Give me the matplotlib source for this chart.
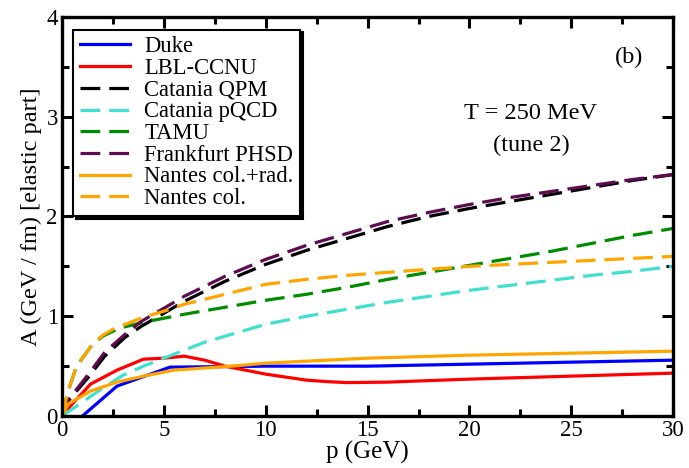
import matplotlib
matplotlib.use("Agg")
import matplotlib.pyplot as plt
from matplotlib.ticker import MultipleLocator

plt.rcParams['font.family'] = ['Liberation Serif', 'DejaVu Serif']
plt.rcParams['mathtext.fontset'] = 'stix'

# ---- data ----
duke_x = [1.0, 2.7, 5.3, 10, 15, 20, 25, 30]
duke_y = [0, 0.30, 0.49, 0.50, 0.50, 0.52, 0.54, 0.56]

lbl_x = [0, 0.5, 1.4, 2.7, 4.0, 5.0, 6.0, 7, 8, 9, 10, 11, 12, 13, 14, 16, 18, 20, 25, 30]
lbl_y = [0, 0.12, 0.32, 0.46, 0.57, 0.58, 0.60, 0.56, 0.50, 0.46, 0.42, 0.39, 0.36, 0.345, 0.335, 0.34, 0.355, 0.37, 0.40, 0.43]

qpm_x = [0, 0.3, 1.3, 2.1, 3.1, 3.9, 5.0, 6, 8, 10, 12, 14, 16, 18, 20, 22, 24, 26, 28, 30]
qpm_y = [0, 0.15, 0.39, 0.60, 0.79, 0.90, 1.03, 1.15, 1.35, 1.52, 1.66, 1.78, 1.90, 2.00, 2.08, 2.15, 2.22, 2.29, 2.36, 2.42]

pqcd_x = [0, 1, 2, 3, 4, 5, 6, 7, 8, 10, 12, 14, 16, 18, 20, 22, 24, 26, 28, 30]
pqcd_y = [0, 0.14, 0.28, 0.41, 0.50, 0.58, 0.66, 0.74, 0.80, 0.92, 1.00, 1.07, 1.14, 1.20, 1.26, 1.31, 1.36, 1.41, 1.45, 1.50]

tamu_x = [0, 0.3, 0.7, 1.0, 1.5, 2.0, 2.5, 3.0, 4.0, 5.0, 6, 8, 10, 12, 14, 16, 18, 20, 22, 24, 26, 28, 30]
tamu_y = [0, 0.25, 0.49, 0.58, 0.72, 0.80, 0.85, 0.89, 0.94, 0.98, 1.02, 1.09, 1.16, 1.22, 1.29, 1.37, 1.44, 1.51, 1.58, 1.65, 1.73, 1.81, 1.88]

phsd_x = [0, 0.3, 1.3, 2.1, 3.1, 3.9, 5.0, 6, 8, 10, 12, 14, 16, 18, 20, 22, 24, 26, 28, 30]
phsd_y = [0, 0.16, 0.42, 0.64, 0.82, 0.95, 1.08, 1.20, 1.40, 1.57, 1.71, 1.83, 1.95, 2.04, 2.12, 2.19, 2.25, 2.31, 2.37, 2.42]

nrad_x = [0, 0.3, 1.4, 2.7, 4.0, 5.5, 8.3, 10, 12, 15, 20, 25, 30]
nrad_y = [0, 0.12, 0.25, 0.34, 0.40, 0.46, 0.50, 0.53, 0.55, 0.58, 0.61, 0.63, 0.65]

ncol_x = [0, 0.3, 0.7, 1.0, 1.5, 2.0, 2.5, 3.0, 4.0, 5.0, 6, 8, 10, 12, 14, 16, 18, 20, 22, 24, 26, 28, 30]
ncol_y = [0, 0.25, 0.49, 0.58, 0.72, 0.81, 0.87, 0.91, 0.99, 1.05, 1.12, 1.22, 1.32, 1.37, 1.41, 1.44, 1.47, 1.50, 1.52, 1.54, 1.56, 1.58, 1.60]

labels = ["Duke", "LBL-CCNU", "Catania QPM", "Catania pQCD", "TAMU",
          "Frankfurt PHSD", "Nantes col.+rad.", "Nantes col."]

fig = plt.figure(figsize=(6.89, 4.68), dpi=100)
ax = fig.add_axes([0.090, 0.111, 0.887, 0.853])

lw = 2.3
dash = (6.2, 2.8)
ax.plot(duke_x, duke_y, color='#0000FF', lw=lw, label=labels[0])
ax.plot(lbl_x, lbl_y, color='#FF0000', lw=lw, label=labels[1])
ax.plot(qpm_x, qpm_y, color='black', lw=lw, dashes=dash, label=labels[2])
ax.plot(pqcd_x, pqcd_y, color='#40E0D0', lw=lw, dashes=dash, label=labels[3])
ax.plot(tamu_x, tamu_y, color='#008C00', lw=lw, dashes=dash, label=labels[4])
ax.plot(phsd_x, phsd_y, color='#5E0B52', lw=lw, dashes=dash, label=labels[5])
ax.plot(nrad_x, nrad_y, color='#FFA500', lw=lw, label=labels[6])
ax.plot(ncol_x, ncol_y, color='#FFA500', lw=lw, dashes=dash, label=labels[7])

ax.set_xlim(0, 30)
ax.set_ylim(0, 4)
ax.xaxis.set_major_locator(MultipleLocator(5))
ax.xaxis.set_minor_locator(MultipleLocator(2.5))
ax.yaxis.set_major_locator(MultipleLocator(1))
ax.yaxis.set_minor_locator(MultipleLocator(0.5))
ax.tick_params(which='both', direction='in', top=True, right=True, width=2.2,
               labelsize=16.5, pad=3)
ax.tick_params(which='major', length=8)
ax.tick_params(which='minor', length=5)
for s in ax.spines.values():
    s.set_linewidth(2.4)

ax.set_xlabel("p (GeV)", fontsize=18, labelpad=0)
ax.set_ylabel("A (GeV / fm) [elastic part]", fontsize=17.5, labelpad=3)

ax.text(0.766, 0.757, "T = 250 MeV", transform=ax.transAxes, ha='center', va='center', fontsize=17.5)
ax.text(0.768, 0.679, "(tune 2)", transform=ax.transAxes, ha='center', va='center', fontsize=17.5)
ax.text(0.928, 0.898, "(b)", transform=ax.transAxes, ha='center', va='center', fontsize=17.5)

leg = ax.legend(loc='upper left', bbox_to_anchor=(0.018, 0.968), borderaxespad=0,
                fontsize=16.3, labelspacing=0.03, handlelength=2.2, handletextpad=0.65,
                borderpad=0.3, fancybox=False, framealpha=1, edgecolor='black',
                shadow={'shade': 1.0, 'alpha': 1.0, 'ox': 2.0, 'oy': -2.0})
leg.get_frame().set_linewidth(1.5)

fig.savefig("out.png", dpi=100)
